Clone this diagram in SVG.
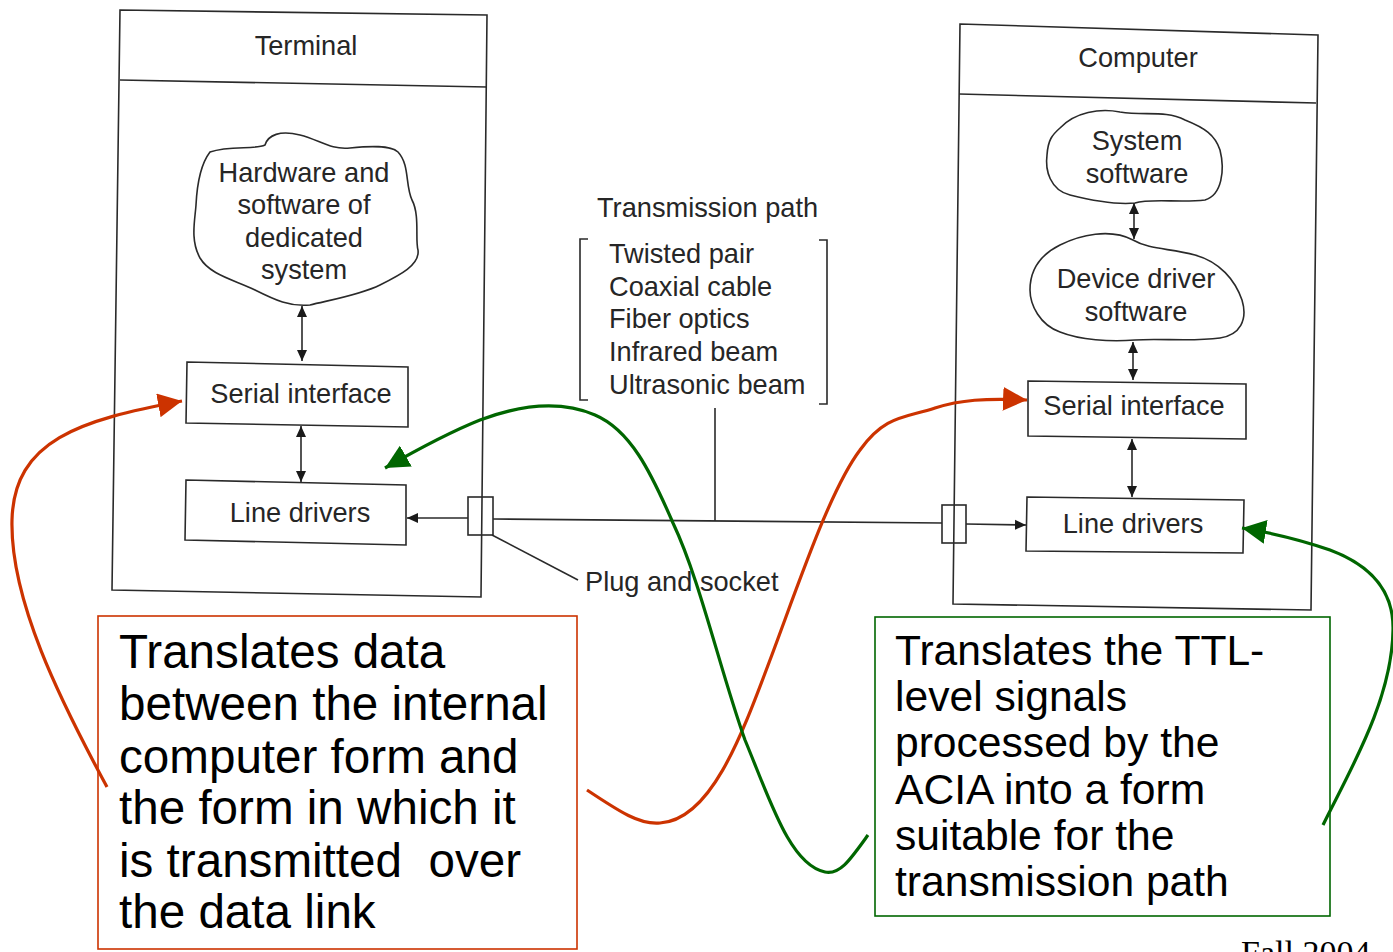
<svg xmlns="http://www.w3.org/2000/svg" width="1393" height="952" viewBox="0 0 1393 952">
<defs>
<marker id="blk" markerUnits="userSpaceOnUse" markerWidth="12" markerHeight="12" refX="11" refY="5" orient="auto-start-reverse" viewBox="0 0 12 10"><path d="M0,0 L11,5 L0,10 Z" fill="#1a1a1a"/></marker>
<marker id="red" markerUnits="userSpaceOnUse" markerWidth="26" markerHeight="24" refX="24" refY="12" orient="auto" viewBox="0 0 26 24"><path d="M0,0 L24,12 L0,24 Z" fill="#cc3300"/></marker>
<marker id="grn" markerUnits="userSpaceOnUse" markerWidth="26" markerHeight="24" refX="24" refY="12" orient="auto" viewBox="0 0 26 24"><path d="M0,0 L24,12 L0,24 Z" fill="#006600"/></marker>
</defs>
<style>
.ln{fill:none;stroke:#2a2a2a;stroke-width:1.6}
.bx{fill:#fff;stroke:#2a2a2a;stroke-width:1.6}
.t{font-family:"Liberation Sans",Arial,sans-serif;font-size:27.2px;fill:#262626}
.tc{text-anchor:middle}
.big{font-family:"Liberation Sans",Arial,sans-serif;fill:#000}
.rc{fill:none;stroke:#cc3300;stroke-width:3.2}
.gc{fill:none;stroke:#006600;stroke-width:3.2}
</style>
<rect width="1393" height="952" fill="#fff"/>

<g id="terminal">
<polygon class="ln" points="120,10 487,15 481,597 112,590"/>
<line class="ln" x1="120" y1="80" x2="487" y2="87"/>
<text class="t tc" x="306" y="55">Terminal</text>
</g>
<g id="computer">
<polygon class="ln" points="960,24 1318,35 1311,610 953,604"/>
<line class="ln" x1="959" y1="94" x2="1316" y2="103"/>
<text class="t tc" x="1138" y="67">Computer</text>
</g>

<g id="cloud-hw">
<path class="bx" d="M210,152 C 230,145 255,150 265,145 C 268,135 280,130 300,135 C 320,140 330,150 350,148 C 370,146 390,145 398,152 C 410,165 405,185 412,200 C 420,215 415,240 418,250 C 420,265 400,275 380,285 C 360,295 330,300 310,305 C 290,307 275,300 255,290 C 235,280 210,275 200,258 C 190,240 195,220 196,205 C 197,185 200,165 210,152 Z"/>
<text class="t tc" x="304" y="182">Hardware and</text>
<text class="t tc" x="304" y="214">software of</text>
<text class="t tc" x="304" y="247">dedicated</text>
<text class="t tc" x="304" y="279">system</text>
</g>
<g id="serial-l">
<polygon class="bx" points="187,362 408,367 408,427 186,423"/>
<text class="t tc" x="301" y="403">Serial interface</text>
</g>
<g id="line-l">
<polygon class="bx" points="186,480 406,485 406,545 185,540"/>
<text class="t tc" x="300" y="522">Line drivers</text>
</g>

<g id="cloud-sys">
<path class="bx" d="M1060,128 C 1075,112 1100,108 1120,112 C 1145,116 1165,110 1185,120 C 1205,128 1215,135 1220,150 C 1225,170 1222,195 1205,200 C 1180,203 1150,198 1135,203 C 1115,205 1090,200 1070,195 C 1050,190 1045,170 1047,155 C 1048,140 1052,135 1060,128 Z"/>
<text class="t tc" x="1137" y="150">System</text>
<text class="t tc" x="1137" y="183">software</text>
</g>
<g id="cloud-dev">
<path class="bx" d="M1133,240 C 1150,250 1170,248 1195,255 C 1220,262 1235,280 1242,300 C 1248,320 1240,335 1220,338 C 1190,342 1160,338 1135,340 C 1110,342 1080,340 1060,332 C 1040,325 1030,305 1030,290 C 1030,270 1040,255 1060,245 C 1080,235 1110,228 1133,240 Z"/>
<text class="t tc" x="1136" y="288">Device driver</text>
<text class="t tc" x="1136" y="321">software</text>
</g>
<g id="serial-r">
<polygon class="bx" points="1028,381 1246,384 1246,439 1028,436"/>
<text class="t tc" x="1134" y="415">Serial interface</text>
</g>
<g id="line-r">
<polygon class="bx" points="1027,497 1244,500 1243,553 1026,551"/>
<text class="t tc" x="1133" y="533">Line drivers</text>
</g>

<g id="transmission">
<text class="t" x="597" y="217">Transmission path</text>
<path class="ln" d="M588,239 L580,239 L580,400 L588,400"/>
<path class="ln" d="M819,240 L827,240 L827,404 L819,404"/>
<text class="t" x="609" y="263">Twisted pair</text>
<text class="t" x="609" y="296">Coaxial cable</text>
<text class="t" x="609" y="328">Fiber optics</text>
<text class="t" x="609" y="361">Infrared beam</text>
<text class="t" x="609" y="394">Ultrasonic beam</text>
</g>
<g id="plug-l"><rect class="ln" x="468" y="497" width="25" height="38"/></g>
<g id="plug-r"><rect class="ln" x="942" y="505" width="24" height="38"/></g>
<g id="plug-label"><text class="t" x="585" y="591">Plug and socket</text></g>

<g id="connectors">
<line class="ln" x1="302" y1="306" x2="302" y2="361" marker-start="url(#blk)" marker-end="url(#blk)"/>
<line class="ln" x1="301" y1="426" x2="301" y2="482" marker-start="url(#blk)" marker-end="url(#blk)"/>
<line class="ln" x1="1134" y1="203" x2="1134" y2="239" marker-start="url(#blk)" marker-end="url(#blk)"/>
<line class="ln" x1="1133" y1="342" x2="1133" y2="380" marker-start="url(#blk)" marker-end="url(#blk)"/>
<line class="ln" x1="1132" y1="439" x2="1132" y2="497" marker-start="url(#blk)" marker-end="url(#blk)"/>
<line class="ln" x1="468" y1="518" x2="407" y2="518" marker-end="url(#blk)"/>
<line class="ln" x1="493" y1="519" x2="942" y2="523"/>
<line class="ln" x1="966" y1="524" x2="1026" y2="525" marker-end="url(#blk)"/>
<line class="ln" x1="715" y1="408" x2="715" y2="521"/>
<line class="ln" x1="492" y1="535" x2="578" y2="580"/>
<path class="rc" d="M107,787 C 60,700 10,600 12,520 C 14,440 80,420 182,401" marker-end="url(#red)"/>
<path class="rc" d="M587,790 C 620,812 640,825 660,823 C 710,820 740,740 770,660 C 800,580 830,490 860,450 C 885,415 905,418 935,408 C 960,400 985,398 1027,400" marker-end="url(#red)"/>
<path class="gc" d="M868,835 C 850,860 840,875 825,872 C 790,865 770,800 745,740 C 720,670 700,580 673,523 C 650,470 630,430 595,415 C 560,400 520,405 480,420 C 450,432 420,448 385,468" marker-end="url(#grn)"/>
<path class="gc" d="M1323,825 C 1350,770 1392,700 1393,630 C 1394,590 1370,565 1330,550 C 1310,543 1285,535 1242,528" marker-end="url(#grn)"/>
</g>

<g id="note-red">
<rect x="98" y="616" width="479" height="333" fill="none" stroke="#cc3300" stroke-width="1.6"/>
<g class="big" font-size="47.6">
<text x="119" y="668">Translates data</text>
<text x="119" y="720">between the internal</text>
<text x="119" y="773">computer form and</text>
<text x="119" y="824">the form in which it</text>
<text x="119" y="877" xml:space="preserve">is transmitted  over</text>
<text x="119" y="928">the data link</text>
</g>
</g>
<g id="note-green">
<rect x="875" y="617" width="455" height="299" fill="none" stroke="#006600" stroke-width="1.6"/>
<g class="big" font-size="42.6">
<text x="895" y="665">Translates the TTL-</text>
<text x="895" y="711">level signals</text>
<text x="895" y="757">processed by the</text>
<text x="895" y="804">ACIA into a form</text>
<text x="895" y="850">suitable for the</text>
<text x="895" y="896">transmission path</text>
</g>
</g>
<g id="footer"><text x="1241" y="964" font-family="'Liberation Serif','Times New Roman',serif" font-size="34" fill="#000">Fall 2004</text></g>
</svg>
